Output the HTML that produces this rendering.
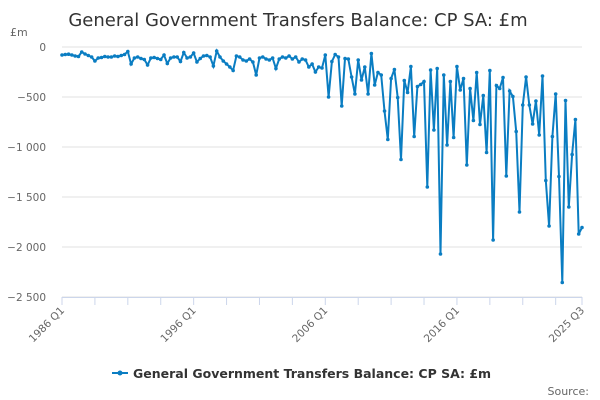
<!DOCTYPE html>
<html><head><meta charset="utf-8"><style>
body{margin:0;background:#fff;font-family:"DejaVu Sans","Liberation Sans",sans-serif}
svg{display:block;font-family:"DejaVu Sans","Liberation Sans",sans-serif}
</style></head><body>
<svg width="600" height="400" id="c" xmlns="http://www.w3.org/2000/svg">
<text x="298" y="26" text-anchor="middle" font-size="18" fill="#333">General Government Transfers Balance: CP SA: £m</text>
<text x="10" y="36" font-size="11" fill="#666">£m</text>
<g id="grid"></g><g id="xt"></g><g id="series"></g>
<g>
<line x1="112" y1="373" x2="128" y2="373" stroke="#0a7dc2" stroke-width="2"/>
<circle cx="120" cy="373" r="2.5" fill="#0a7dc2"/>
<text x="133" y="378" font-size="12.5" font-weight="bold" fill="#333">General Government Transfers Balance: CP SA: £m</text>
</g>
<text x="589" y="395" text-anchor="end" font-size="11" fill="#666">Source:</text>
</svg>
<script>
const yTicks=[0,-500,-1000,-1500,-2000,-2500];
const xLabels=["1986 Q1","1996 Q1","2006 Q1","2016 Q1","2025 Q3"];
const xLabelIdx=[0,40,80,120,158];
const values=[-80,-75,-72,-80,-90,-95,-50,-70,-85,-100,-140,-110,-105,-95,-100,-100,-90,-95,-85,-75,
-45,-170,-110,-100,-115,-125,-180,-110,-105,-115,-125,-80,-165,-110,-100,-100,-145,-55,-110,-100,
-60,-150,-115,-90,-85,-100,-190,-40,-100,-140,-170,-200,-235,-90,-100,-130,-140,-120,-150,-280,
-110,-100,-120,-130,-110,-215,-120,-100,-110,-90,-120,-100,-150,-120,-130,-200,-170,-250,-200,-210,
-80,-500,-145,-75,-100,-590,-115,-120,-300,-470,-130,-330,-200,-470,-65,-380,-255,-280,-640,-925,-315,-225,-505,-1125,
-335,-455,-195,-895,-395,-375,-345,-1400,-230,-830,-215,-2070,-280,-980,-345,-905,-195,-430,-315,-1180,
-415,-735,-255,-775,-485,-1055,-235,-1930,-385,-415,-305,-1290,-440,-495,-845,-1650,-580,-300,-580,-770,
-540,-880,-290,-1335,-1790,-895,-470,-1295,-2355,-535,-1600,-1075,-725,-1870,-1805];
const NS="http://www.w3.org/2000/svg";
const X0=62,X1=582,Y0=47,Y1=297;
const n=values.length;
function xs(i){return X0+(X1-X0)*i/(n-1);}
function ys(v){return Y0+(Y1-Y0)*(0-v)/2500;}
function mk(t,a,p){const e=document.createElementNS(NS,t);for(const k in a)e.setAttribute(k,a[k]);p.appendChild(e);return e;}
const grid=document.getElementById('grid');
yTicks.forEach(v=>{
 const l=mk('line',{x1:X0,x2:X1,y1:ys(v),y2:ys(v),stroke:'#e0e0e0','stroke-width':1},grid);
 
 
 const t=mk('text',{x:46,y:ys(v)+4,'text-anchor':'end','font-size':10.5,fill:'#666'},grid);
 t.textContent=String(v).replace(/^-(\d)(\d{3})$/,'-$1 $2').replace('-','\u2212');
 
 
});
const xt=document.getElementById('xt');
const ax=mk('line',{x1:X0,x2:X1,y1:Y1+0.5,y2:Y1+0.5,stroke:'#ccd6eb'},xt);


for(let i=0;i<n;i+=10){mk('line',{x1:xs(i),x2:xs(i),y1:Y1,y2:Y1+8,stroke:'#ccd6eb'},xt);}
mk('line',{x1:xs(n-1),x2:xs(n-1),y1:Y1,y2:Y1+8,stroke:'#ccd6eb'},xt);
xLabels.forEach((s,k)=>{
 const x=xs(xLabelIdx[k]);
 const t=mk('text',{x:x+3,y:Y1+14,'text-anchor':'end','font-size':10.5,fill:'#666',transform:`rotate(-45 ${x+3} ${Y1+14})`},xt);
 t.textContent=s;
 
 
});
const g=document.getElementById('series');
const p=mk('path',{d:values.map((v,i)=>(i?'L':'M')+xs(i).toFixed(1)+','+ys(v).toFixed(1)).join(''),fill:'none',stroke:'#0a7dc2','stroke-width':2},g);


values.forEach((v,i)=>{
 const c=mk('circle',{cx:xs(i),cy:ys(v),r:1.8,fill:'#0a7dc2'},g);
 
 
});
</script>
</body></html>
